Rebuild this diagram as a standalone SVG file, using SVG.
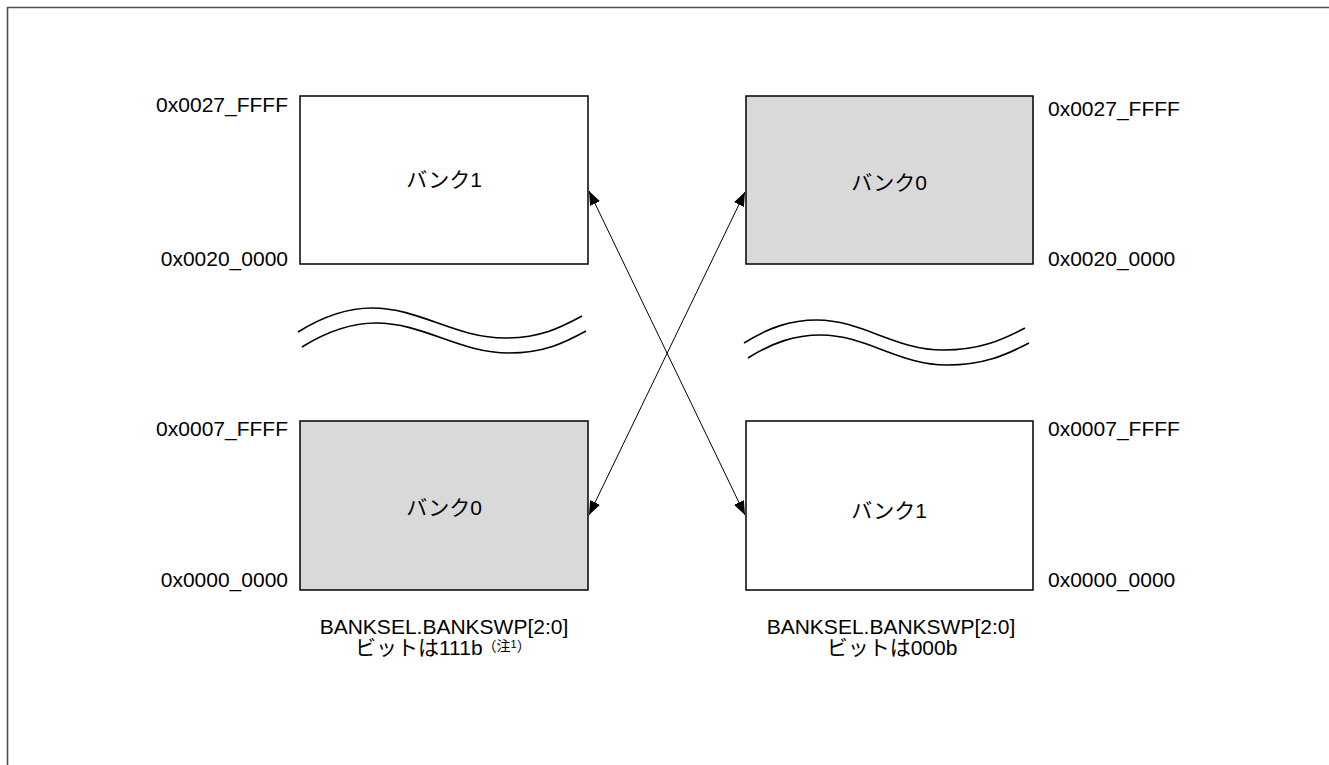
<svg xmlns="http://www.w3.org/2000/svg" width="1329" height="765" viewBox="0 0 1329 765">
<style>
.t{font-family:"Liberation Sans","Noto Sans CJK JP",sans-serif;font-size:21px;fill:#000}
.box{stroke:#000;stroke-width:1.5}
.w{fill:#fff}.g{fill:#d9d9d9}
.wave{fill:none;stroke:#000;stroke-width:1.6}
.conn{stroke:#000;stroke-width:1;fill:none}
</style>
<defs>
<marker id="ah" markerUnits="userSpaceOnUse" markerWidth="15" markerHeight="12" refX="14" refY="6" orient="auto-start-reverse">
<path d="M0,0.5 L14,6 L0,11.5 z" fill="#000"/>
</marker>
</defs>
<rect width="1329" height="765" fill="#fff"/>
<path d="M7.5,765 V7.5 H1329" fill="none" stroke="#505050" stroke-width="1.6"/>

<g id="left-bank1">
<rect class="box w" x="300" y="96" width="288" height="168"/>
<text class="t" x="444" y="187" text-anchor="middle">バンク1</text>
</g>
<g id="left-bank0">
<rect class="box g" x="300" y="421" width="288" height="169"/>
<text class="t" x="444" y="515" text-anchor="middle">バンク0</text>
</g>
<g id="right-bank0">
<rect class="box g" x="746" y="96" width="287" height="168"/>
<text class="t" x="889" y="190" text-anchor="middle">バンク0</text>
</g>
<g id="right-bank1">
<rect class="box w" x="746" y="421" width="287" height="169"/>
<text class="t" x="889" y="518" text-anchor="middle">バンク1</text>
</g>

<g id="left-addresses">
<text class="t" x="288" y="112" text-anchor="end">0x0027_FFFF</text>
<text class="t" x="288" y="266" text-anchor="end">0x0020_0000</text>
<text class="t" x="288" y="436" text-anchor="end">0x0007_FFFF</text>
<text class="t" x="288" y="587" text-anchor="end">0x0000_0000</text>
</g>
<g id="right-addresses">
<text class="t" x="1048" y="116">0x0027_FFFF</text>
<text class="t" x="1048" y="266">0x0020_0000</text>
<text class="t" x="1048" y="436">0x0007_FFFF</text>
<text class="t" x="1048" y="587">0x0000_0000</text>
</g>

<g id="left-break">
<path class="wave" d="M298,332 C322,317 345,308 372,308 C420,308 455,338 505,338 C540,338 560,328 582,316"/>
<path class="wave" d="M302,347 C326,332 349,323 376,323 C424,323 459,353 509,353 C544,353 564,343 586,331"/>
</g>
<g id="right-break">
<path class="wave" d="M744,343 C768,328 790,320 817,320 C862,320 895,350 943,350 C980,350 1002,340 1025,328"/>
<path class="wave" d="M748,358 C772,343 794,335 821,335 C866,335 899,365 947,365 C984,365 1006,355 1029,343"/>
</g>

<g id="connectors">
<line class="conn" x1="745" y1="515" x2="589" y2="191" marker-start="url(#ah)" marker-end="url(#ah)"/>
<line class="conn" x1="589" y1="515" x2="745" y2="192" marker-start="url(#ah)" marker-end="url(#ah)"/>
</g>

<g id="left-caption">
<text class="t" x="444" y="634" text-anchor="middle">BANKSEL.BANKSWP[2:0]</text>
<text class="t" x="355" y="655">ビットは111b<tspan font-size="14" dy="-4">（注</tspan><tspan font-size="11" dy="-3">1</tspan><tspan font-size="14" dy="3">）</tspan></text>
</g>
<g id="right-caption">
<text class="t" x="891" y="634" text-anchor="middle">BANKSEL.BANKSWP[2:0]</text>
<text class="t" x="892" y="655" text-anchor="middle">ビットは000b</text>
</g>
</svg>
